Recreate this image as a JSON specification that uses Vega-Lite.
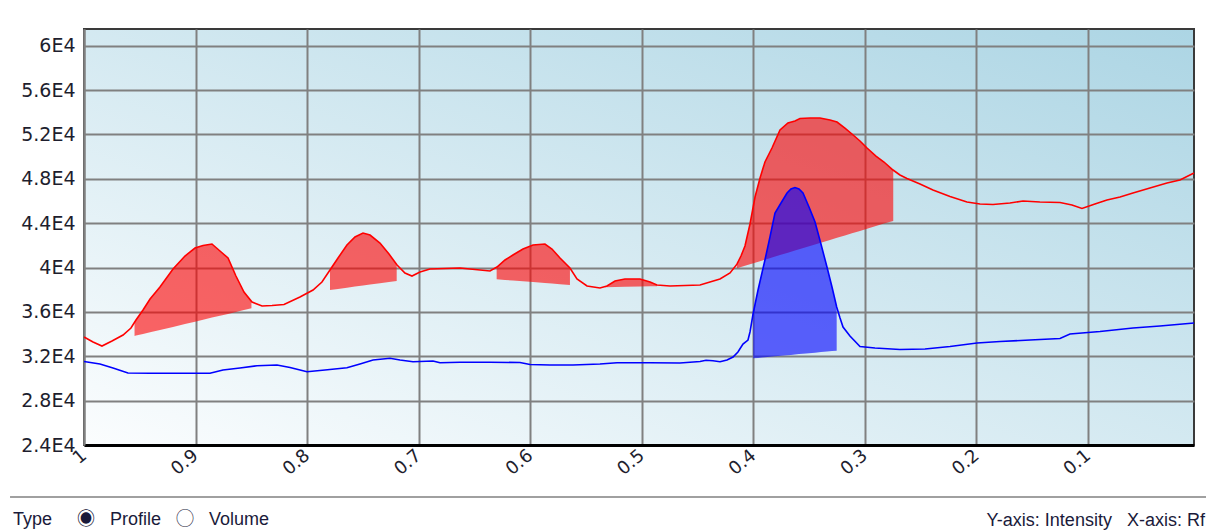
{
  "$schema": "https://vega.github.io/schema/vega-lite/v6.json",
  "width": 1110,
  "height": 416,
  "autosize": {"type": "none"},
  "padding": {"left": 84, "top": 29, "right": 12, "bottom": 86},
  "background": "white",
  "title": {
    "text": "Type\u00a0\u00a0\u00a0\u00a0\u00a0\u25c9\u00a0\u00a0\u00a0Profile\u00a0\u00a0\u00a0\u25ef\u00a0\u00a0\u00a0Volume",
    "orient": "bottom",
    "anchor": "start",
    "frame": "group",
    "dx": -71,
    "offset": -18,
    "font": "Liberation Sans, Noto Sans CJK JP",
    "fontSize": 18,
    "fontWeight": "normal",
    "color": "#1a1a3a"
  },
  "datasets": {
    "red": [
      {"rf": 1.0, "intensity": 33735}, {"rf": 0.9919, "intensity": 33284}, {"rf": 0.9839, "intensity": 32924}, {"rf": 0.9749, "intensity": 33375},
      {"rf": 0.965, "intensity": 33915}, {"rf": 0.9579, "intensity": 34546}, {"rf": 0.9534, "intensity": 35268}, {"rf": 0.9471, "intensity": 36169},
      {"rf": 0.9408, "intensity": 37160}, {"rf": 0.9319, "intensity": 38242}, {"rf": 0.9202, "intensity": 39865}, {"rf": 0.9095, "intensity": 41036},
      {"rf": 0.9005, "intensity": 41758}, {"rf": 0.8933, "intensity": 41983}, {"rf": 0.8853, "intensity": 42118}, {"rf": 0.8781, "intensity": 41487},
      {"rf": 0.8709, "intensity": 40856}, {"rf": 0.8638, "intensity": 39234}, {"rf": 0.8566, "intensity": 37791}, {"rf": 0.8494, "intensity": 36890},
      {"rf": 0.8404, "intensity": 36529}, {"rf": 0.8315, "intensity": 36575}, {"rf": 0.8207, "intensity": 36665}, {"rf": 0.8064, "intensity": 37341},
      {"rf": 0.7947, "intensity": 37972}, {"rf": 0.7867, "intensity": 38693}, {"rf": 0.7795, "intensity": 39775}, {"rf": 0.7723, "intensity": 40856},
      {"rf": 0.7643, "intensity": 42028}, {"rf": 0.7571, "intensity": 42749}, {"rf": 0.7499, "intensity": 43110}, {"rf": 0.7436, "intensity": 42929},
      {"rf": 0.7347, "intensity": 42208}, {"rf": 0.7266, "intensity": 41217}, {"rf": 0.7194, "intensity": 40225}, {"rf": 0.7123, "intensity": 39504},
      {"rf": 0.706, "intensity": 39234}, {"rf": 0.6988, "intensity": 39594}, {"rf": 0.6899, "intensity": 39865}, {"rf": 0.6764, "intensity": 39910},
      {"rf": 0.663, "intensity": 39955}, {"rf": 0.6495, "intensity": 39820}, {"rf": 0.6361, "intensity": 39684}, {"rf": 0.6298, "intensity": 40045},
      {"rf": 0.6226, "intensity": 40676}, {"rf": 0.6155, "intensity": 41127}, {"rf": 0.6065, "intensity": 41667}, {"rf": 0.5975, "intensity": 42028},
      {"rf": 0.5868, "intensity": 42118}, {"rf": 0.5805, "intensity": 41667}, {"rf": 0.5733, "intensity": 40856}, {"rf": 0.5644, "intensity": 39955},
      {"rf": 0.5581, "intensity": 38963}, {"rf": 0.5491, "intensity": 38332}, {"rf": 0.5375, "intensity": 38152}, {"rf": 0.5312, "intensity": 38332},
      {"rf": 0.524, "intensity": 38783}, {"rf": 0.5151, "intensity": 38963}, {"rf": 0.5016, "intensity": 38963}, {"rf": 0.4926, "intensity": 38693},
      {"rf": 0.4864, "intensity": 38422}, {"rf": 0.4747, "intensity": 38332}, {"rf": 0.4613, "intensity": 38377}, {"rf": 0.4478, "intensity": 38422},
      {"rf": 0.4389, "intensity": 38693}, {"rf": 0.4299, "intensity": 38963}, {"rf": 0.4209, "intensity": 39504}, {"rf": 0.4147, "intensity": 40300},
      {"rf": 0.4111, "intensity": 41036}, {"rf": 0.4075, "intensity": 41938}, {"rf": 0.403, "intensity": 43921}, {"rf": 0.3985, "intensity": 46355},
      {"rf": 0.394, "intensity": 48067}, {"rf": 0.3896, "intensity": 49510}, {"rf": 0.3833, "intensity": 50772}, {"rf": 0.3761, "intensity": 52394},
      {"rf": 0.369, "intensity": 53025}, {"rf": 0.3627, "intensity": 53205}, {"rf": 0.3582, "intensity": 53431}, {"rf": 0.3492, "intensity": 53476},
      {"rf": 0.3403, "intensity": 53476}, {"rf": 0.3313, "intensity": 53296}, {"rf": 0.325, "intensity": 53115}, {"rf": 0.3179, "intensity": 52574},
      {"rf": 0.3116, "intensity": 52034}, {"rf": 0.3044, "intensity": 51403}, {"rf": 0.2981, "intensity": 50772}, {"rf": 0.2901, "intensity": 50050},
      {"rf": 0.2829, "intensity": 49510}, {"rf": 0.2748, "intensity": 48789}, {"rf": 0.2686, "intensity": 48338}, {"rf": 0.2623, "intensity": 48022},
      {"rf": 0.2506, "intensity": 47527}, {"rf": 0.239, "intensity": 46986}, {"rf": 0.2237, "intensity": 46400}, {"rf": 0.2085, "intensity": 45904},
      {"rf": 0.1968, "intensity": 45724}, {"rf": 0.1852, "intensity": 45679}, {"rf": 0.17, "intensity": 45814}, {"rf": 0.1583, "intensity": 45994},
      {"rf": 0.1431, "intensity": 45904}, {"rf": 0.1251, "intensity": 45859}, {"rf": 0.1144, "intensity": 45634}, {"rf": 0.1054, "intensity": 45318},
      {"rf": 0.0938, "intensity": 45724}, {"rf": 0.083, "intensity": 46084}, {"rf": 0.0713, "intensity": 46355}, {"rf": 0.0597, "intensity": 46715},
      {"rf": 0.0445, "intensity": 47166}, {"rf": 0.0292, "intensity": 47617}, {"rf": 0.0176, "intensity": 47887}, {"rf": 0.005, "intensity": 48518}
    ],
    "redfill": [
      {"peak": 1, "rf": 0.9547, "intensity": 35050, "base": 33825}, {"peak": 1, "rf": 0.9534, "intensity": 35268, "base": 33861},
      {"peak": 1, "rf": 0.9471, "intensity": 36169, "base": 34005}, {"peak": 1, "rf": 0.9408, "intensity": 37160, "base": 34159},
      {"peak": 1, "rf": 0.9319, "intensity": 38242, "base": 34365}, {"peak": 1, "rf": 0.9202, "intensity": 39865, "base": 34645},
      {"peak": 1, "rf": 0.9095, "intensity": 41036, "base": 34907}, {"peak": 1, "rf": 0.9005, "intensity": 41758, "base": 35114},
      {"peak": 1, "rf": 0.8933, "intensity": 41983, "base": 35285}, {"peak": 1, "rf": 0.8853, "intensity": 42118, "base": 35484},
      {"peak": 1, "rf": 0.8781, "intensity": 41487, "base": 35646}, {"peak": 1, "rf": 0.8709, "intensity": 40856, "base": 35817},
      {"peak": 1, "rf": 0.8638, "intensity": 39234, "base": 35988}, {"peak": 1, "rf": 0.8566, "intensity": 37791, "base": 36159},
      {"peak": 1, "rf": 0.8499, "intensity": 36930, "base": 36322},
      {"peak": 2, "rf": 0.7795, "intensity": 39775, "base": 37972}, {"peak": 2, "rf": 0.7723, "intensity": 40856, "base": 38071},
      {"peak": 2, "rf": 0.7643, "intensity": 42028, "base": 38179}, {"peak": 2, "rf": 0.7571, "intensity": 42749, "base": 38278},
      {"peak": 2, "rf": 0.7499, "intensity": 43110, "base": 38377}, {"peak": 2, "rf": 0.7436, "intensity": 42929, "base": 38458},
      {"peak": 2, "rf": 0.7347, "intensity": 42208, "base": 38585}, {"peak": 2, "rf": 0.7266, "intensity": 41217, "base": 38693},
      {"peak": 2, "rf": 0.7197, "intensity": 40260, "base": 38783},
      {"peak": 3, "rf": 0.6301, "intensity": 40072, "base": 38936}, {"peak": 3, "rf": 0.6226, "intensity": 40676, "base": 38878},
      {"peak": 3, "rf": 0.6155, "intensity": 41127, "base": 38819}, {"peak": 3, "rf": 0.6065, "intensity": 41667, "base": 38756},
      {"peak": 3, "rf": 0.5975, "intensity": 42028, "base": 38684}, {"peak": 3, "rf": 0.5868, "intensity": 42118, "base": 38594},
      {"peak": 3, "rf": 0.5805, "intensity": 41667, "base": 38549}, {"peak": 3, "rf": 0.5733, "intensity": 40856, "base": 38495},
      {"peak": 3, "rf": 0.5644, "intensity": 39955, "base": 38422},
      {"peak": 4, "rf": 0.533, "intensity": 38260, "base": 38223}, {"peak": 4, "rf": 0.524, "intensity": 38783, "base": 38242},
      {"peak": 4, "rf": 0.5151, "intensity": 38963, "base": 38260}, {"peak": 4, "rf": 0.5016, "intensity": 38963, "base": 38287},
      {"peak": 4, "rf": 0.4926, "intensity": 38693, "base": 38305}, {"peak": 4, "rf": 0.4864, "intensity": 38422, "base": 38314},
      {"peak": 5, "rf": 0.4147, "intensity": 40300, "base": 39937}, {"peak": 5, "rf": 0.4111, "intensity": 41036, "base": 40045},
      {"peak": 5, "rf": 0.4075, "intensity": 41938, "base": 40153}, {"peak": 5, "rf": 0.403, "intensity": 43921, "base": 40288},
      {"peak": 5, "rf": 0.3985, "intensity": 46355, "base": 40432}, {"peak": 5, "rf": 0.394, "intensity": 48067, "base": 40568},
      {"peak": 5, "rf": 0.3896, "intensity": 49510, "base": 40703}, {"peak": 5, "rf": 0.3833, "intensity": 50772, "base": 40892},
      {"peak": 5, "rf": 0.3761, "intensity": 52394, "base": 41118}, {"peak": 5, "rf": 0.369, "intensity": 53025, "base": 41334},
      {"peak": 5, "rf": 0.3627, "intensity": 53205, "base": 41523}, {"peak": 5, "rf": 0.3582, "intensity": 53431, "base": 41659},
      {"peak": 5, "rf": 0.3492, "intensity": 53476, "base": 41938}, {"peak": 5, "rf": 0.3403, "intensity": 53476, "base": 42208},
      {"peak": 5, "rf": 0.3313, "intensity": 53296, "base": 42488}, {"peak": 5, "rf": 0.325, "intensity": 53115, "base": 42677},
      {"peak": 5, "rf": 0.3179, "intensity": 52574, "base": 42884}, {"peak": 5, "rf": 0.3116, "intensity": 52034, "base": 43083},
      {"peak": 5, "rf": 0.3044, "intensity": 51403, "base": 43299}, {"peak": 5, "rf": 0.2981, "intensity": 50772, "base": 43488},
      {"peak": 5, "rf": 0.2901, "intensity": 50050, "base": 43741}, {"peak": 5, "rf": 0.2829, "intensity": 49510, "base": 43957},
      {"peak": 5, "rf": 0.2746, "intensity": 48789, "base": 44200}
    ],
    "blue": [
      {"rf": 1.0, "intensity": 31527}, {"rf": 0.9857, "intensity": 31301}, {"rf": 0.974, "intensity": 30941}, {"rf": 0.9606, "intensity": 30490},
      {"rf": 0.9408, "intensity": 30463}, {"rf": 0.9184, "intensity": 30463}, {"rf": 0.8871, "intensity": 30463}, {"rf": 0.8754, "intensity": 30761},
      {"rf": 0.8602, "intensity": 30941}, {"rf": 0.8449, "intensity": 31148}, {"rf": 0.827, "intensity": 31211}, {"rf": 0.8153, "intensity": 30986},
      {"rf": 0.8001, "intensity": 30607}, {"rf": 0.784, "intensity": 30761}, {"rf": 0.7643, "intensity": 30968}, {"rf": 0.7526, "intensity": 31301},
      {"rf": 0.7409, "intensity": 31662}, {"rf": 0.7257, "intensity": 31815}, {"rf": 0.7167, "intensity": 31662}, {"rf": 0.7051, "intensity": 31509},
      {"rf": 0.6872, "intensity": 31572}, {"rf": 0.6809, "intensity": 31419}, {"rf": 0.663, "intensity": 31455}, {"rf": 0.6361, "intensity": 31455},
      {"rf": 0.6092, "intensity": 31437}, {"rf": 0.6002, "intensity": 31256}, {"rf": 0.5823, "intensity": 31211}, {"rf": 0.5617, "intensity": 31211},
      {"rf": 0.5375, "intensity": 31301}, {"rf": 0.5222, "intensity": 31419}, {"rf": 0.4926, "intensity": 31419}, {"rf": 0.4658, "intensity": 31391},
      {"rf": 0.4478, "intensity": 31527}, {"rf": 0.4424, "intensity": 31635}, {"rf": 0.4362, "intensity": 31590}, {"rf": 0.4299, "intensity": 31509},
      {"rf": 0.4236, "intensity": 31662}, {"rf": 0.4182, "intensity": 31932}, {"rf": 0.4138, "intensity": 32383}, {"rf": 0.4093, "intensity": 33104},
      {"rf": 0.4048, "intensity": 33465}, {"rf": 0.403, "intensity": 34186}, {"rf": 0.4001, "intensity": 35898}, {"rf": 0.3958, "intensity": 37972},
      {"rf": 0.3896, "intensity": 40676}, {"rf": 0.3851, "intensity": 42749}, {"rf": 0.3806, "intensity": 44912}, {"rf": 0.3752, "intensity": 45814},
      {"rf": 0.3698, "intensity": 46715}, {"rf": 0.3663, "intensity": 47076}, {"rf": 0.3627, "intensity": 47211}, {"rf": 0.3591, "intensity": 47076},
      {"rf": 0.3555, "intensity": 46715}, {"rf": 0.3501, "intensity": 45453}, {"rf": 0.3447, "intensity": 44101}, {"rf": 0.3394, "intensity": 42118},
      {"rf": 0.334, "intensity": 40045}, {"rf": 0.3295, "intensity": 38242}, {"rf": 0.3253, "intensity": 36439}, {"rf": 0.3223, "intensity": 35448},
      {"rf": 0.3196, "intensity": 34637}, {"rf": 0.3134, "intensity": 33825}, {"rf": 0.3044, "intensity": 32879}, {"rf": 0.291, "intensity": 32744},
      {"rf": 0.2686, "intensity": 32609}, {"rf": 0.2461, "intensity": 32653}, {"rf": 0.2237, "intensity": 32879}, {"rf": 0.1995, "intensity": 33194},
      {"rf": 0.1789, "intensity": 33329}, {"rf": 0.152, "intensity": 33465}, {"rf": 0.1251, "intensity": 33600}, {"rf": 0.1162, "intensity": 34006},
      {"rf": 0.0893, "intensity": 34231}, {"rf": 0.0597, "intensity": 34546}, {"rf": 0.0355, "intensity": 34727}, {"rf": 0.005, "intensity": 34997}
    ],
    "bluefill": [
      {"rf": 0.4001, "intensity": 35898, "base": 31815}, {"rf": 0.3958, "intensity": 37972, "base": 31851},
      {"rf": 0.3896, "intensity": 40676, "base": 31914}, {"rf": 0.3851, "intensity": 42749, "base": 31950},
      {"rf": 0.3806, "intensity": 44912, "base": 31995}, {"rf": 0.3752, "intensity": 45814, "base": 32041},
      {"rf": 0.3698, "intensity": 46715, "base": 32095}, {"rf": 0.3663, "intensity": 47076, "base": 32122},
      {"rf": 0.3627, "intensity": 47211, "base": 32158}, {"rf": 0.3591, "intensity": 47076, "base": 32194},
      {"rf": 0.3555, "intensity": 46715, "base": 32221}, {"rf": 0.3501, "intensity": 45453, "base": 32275},
      {"rf": 0.3447, "intensity": 44101, "base": 32320}, {"rf": 0.3394, "intensity": 42118, "base": 32374},
      {"rf": 0.334, "intensity": 40045, "base": 32419}, {"rf": 0.3295, "intensity": 38242, "base": 32464},
      {"rf": 0.3253, "intensity": 36439, "base": 32500}
    ]
  },
  "layer": [
    {
      "data": {"name": "redfill"},
      "mark": {"type": "area", "color": "#ff0000", "opacity": 0.6},
      "encoding": {
        "x": {"field": "rf", "type": "quantitative", "scale": {"domain": [0.005, 1], "reverse": true, "nice": false, "zero": false}},
        "y": {"field": "intensity", "type": "quantitative", "scale": {"domain": [24000, 61500], "nice": false, "zero": false}},
        "y2": {"field": "base"},
        "detail": {"field": "peak"}
      }
    },
    {
      "data": {"name": "red"},
      "mark": {"type": "line", "color": "#ff0000", "strokeWidth": 1.6},
      "encoding": {
        "x": {
          "field": "rf", "type": "quantitative",
          "scale": {"domain": [0.005, 1], "reverse": true, "nice": false, "zero": false},
          "axis": {
            "values": [1, 0.9, 0.8, 0.7, 0.6, 0.5, 0.4, 0.3, 0.2, 0.1],
            "format": ".1~f",
            "labelAngle": -40,
            "labelAlign": "right",
            "labelBaseline": "middle",
            "labelPadding": 8,
            "labelFontSize": 18,
            "labelFlush": false,
            "labelOverlap": false,
            "ticks": false,
            "domainColor": "#000000",
            "domainWidth": 3,
            "title": "Y-axis: Intensity\u00a0\u00a0\u00a0X-axis: Rf",
            "titleX": 902,
            "titleY": 80,
            "titleAlign": "left",
            "titleAnchor": "start",
            "titleBaseline": "alphabetic",
            "titleFont": "Liberation Sans",
            "titleFontSize": 18,
            "titleFontWeight": "normal",
            "titleColor": "#1a1a3a"
          }
        },
        "y": {
          "field": "intensity", "type": "quantitative",
          "scale": {"domain": [24000, 61500], "nice": false, "zero": false},
          "axis": {
            "values": [24000, 28000, 32000, 36000, 40000, 44000, 48000, 52000, 56000, 60000],
            "labelExpr": "datum.value / 10000 + 'E4'",
            "labelPadding": 9,
            "labelFontSize": 19,
            "ticks": false,
            "domainColor": "#808080",
            "domainWidth": 2,
            "title": null
          }
        }
      }
    },
    {
      "data": {"name": "bluefill"},
      "mark": {"type": "area", "color": "#0000ff", "opacity": 0.6},
      "encoding": {
        "x": {"field": "rf", "type": "quantitative", "scale": {"domain": [0.005, 1], "reverse": true, "nice": false, "zero": false}},
        "y": {"field": "intensity", "type": "quantitative", "scale": {"domain": [24000, 61500], "nice": false, "zero": false}},
        "y2": {"field": "base"}
      }
    },
    {
      "data": {"name": "blue"},
      "mark": {"type": "line", "color": "#0000ff", "strokeWidth": 1.6},
      "encoding": {
        "x": {"field": "rf", "type": "quantitative", "scale": {"domain": [0.005, 1], "reverse": true, "nice": false, "zero": false}},
        "y": {"field": "intensity", "type": "quantitative", "scale": {"domain": [24000, 61500], "nice": false, "zero": false}}
      }
    },
    {
      "data": {"values": [{}]},
      "mark": {"type": "rule", "color": "#a0a0a0", "strokeWidth": 2},
      "encoding": {
        "x": {"datum": 1.0663, "type": "quantitative", "scale": {"domain": [0.005, 1], "reverse": true, "nice": false, "zero": false}},
        "x2": {"datum": -0.0058},
        "y": {"datum": 19312, "type": "quantitative", "scale": {"domain": [24000, 61500], "nice": false, "zero": false}}
      }
    }
  ],
  "config": {
    "view": {
      "fill": {"gradient": "linear", "x1": 0, "y1": 1, "x2": 1, "y2": 0, "stops": [{"offset": 0, "color": "#fbfdfe"}, {"offset": 1, "color": "#acd5e4"}]},
      "stroke": "#3a3a3a",
      "strokeWidth": 2
    },
    "axis": {
      "labelFont": "DejaVu Sans",
      "labelColor": "#1e1e2e",
      "grid": true,
      "gridColor": "#808080",
      "gridWidth": 2,
      "gridOpacity": 1
    }
  }
}
